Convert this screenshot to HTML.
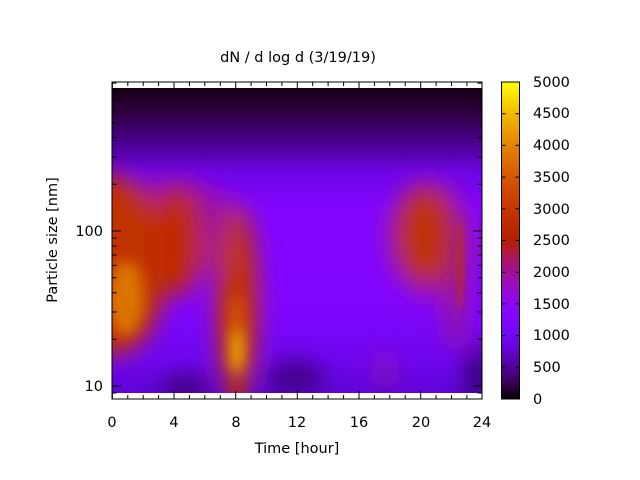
<!DOCTYPE html>
<html><head><meta charset="utf-8"><style>
html,body{margin:0;padding:0;background:#fff}
svg{display:block;font-family:"DejaVu Sans","Liberation Sans",sans-serif;font-size:14.5px}
</style></head><body>
<svg width="640" height="480" viewBox="0 0 640 480">
<defs>
<linearGradient id="pal" x1="0" y1="1" x2="0" y2="0">
<stop offset="0" stop-color="#000000"/>
<stop offset="0.05" stop-color="#390055"/>
<stop offset="0.1" stop-color="#510096"/>
<stop offset="0.15" stop-color="#6203cd"/>
<stop offset="0.2" stop-color="#7208f3"/>
<stop offset="0.25" stop-color="#8004ff"/>
<stop offset="0.3" stop-color="#8c07f3"/>
<stop offset="0.35" stop-color="#970bcd"/>
<stop offset="0.4" stop-color="#a11096"/>
<stop offset="0.45" stop-color="#ab1755"/>
<stop offset="0.5" stop-color="#b42000"/>
<stop offset="0.6" stop-color="#c53700"/>
<stop offset="0.7" stop-color="#d55700"/>
<stop offset="0.8" stop-color="#e48300"/>
<stop offset="0.9" stop-color="#f1ba00"/>
<stop offset="1" stop-color="#ffff00"/>
</linearGradient>
<linearGradient id="bg" x1="0" y1="88" x2="0" y2="393" gradientUnits="userSpaceOnUse">
<stop offset="0" stop-color="#160012"/>
<stop offset="0.08" stop-color="#2e0040"/>
<stop offset="0.18" stop-color="#4a0090"/>
<stop offset="0.28" stop-color="#6e05e8"/>
<stop offset="0.4" stop-color="#8205ff"/>
<stop offset="0.7" stop-color="#8005ff"/>
<stop offset="0.88" stop-color="#7006f0"/>
<stop offset="1" stop-color="#6004d8"/>
</linearGradient>
<clipPath id="clip"><rect x="112" y="88" width="370" height="305"/></clipPath>
<filter id="b12" x="-50%" y="-50%" width="200%" height="200%"><feGaussianBlur stdDeviation="12"/></filter>
<filter id="b8" x="-50%" y="-50%" width="200%" height="200%"><feGaussianBlur stdDeviation="7"/></filter>
<filter id="b5" x="-50%" y="-50%" width="200%" height="200%"><feGaussianBlur stdDeviation="4"/></filter>
</defs>
<g clip-path="url(#clip)">
<rect x="112" y="88" width="370" height="305" fill="url(#bg)"/>
<g filter="url(#b12)">
<ellipse cx="170" cy="230" rx="75" ry="50" fill="#a0109a" opacity="0.85"/>
<ellipse cx="430" cy="240" rx="45" ry="60" fill="#9a10b0" opacity="0.8"/>
<ellipse cx="185" cy="388" rx="25" ry="10" fill="#300050" opacity="0.9"/>
<ellipse cx="295" cy="378" rx="30" ry="18" fill="#380070" opacity="0.8"/>
<ellipse cx="478" cy="375" rx="10" ry="30" fill="#2a0050"/>
<ellipse cx="112" cy="265" rx="55" ry="90" fill="#c03000"/>
<ellipse cx="178" cy="240" rx="25" ry="55" fill="#c02c00"/>
<ellipse cx="237" cy="300" rx="20" ry="95" fill="#c23400"/>
<ellipse cx="425" cy="235" rx="30" ry="50" fill="#c03000"/>
<ellipse cx="455" cy="280" rx="10" ry="70" fill="#a82060" opacity="0.8"/>
<ellipse cx="385" cy="370" rx="8" ry="20" fill="#a01890" opacity="0.7"/>
</g>
<g filter="url(#b8)">
<ellipse cx="126" cy="298" rx="18" ry="38" fill="#e08000" opacity="0.85"/>
<ellipse cx="237" cy="325" rx="8" ry="30" fill="#d85a00" opacity="0.8"/>
<ellipse cx="237" cy="352" rx="7" ry="22" fill="#f0b000"/>
<ellipse cx="237" cy="390" rx="9" ry="8" fill="#c03000"/>
</g>
<g filter="url(#b5)">
<ellipse cx="460" cy="265" rx="3" ry="45" fill="#c03000" opacity="0.9"/>
</g>
</g>
<rect x="112" y="82" width="370" height="317" fill="none" stroke="#000" stroke-width="1"/>
<g stroke="#000" stroke-width="1">
<path d="M112.4,399v-8M112.4,82v8M174,399v-8M174,82v8M235.7,399v-8M235.7,82v8M297.3,399v-8M297.3,82v8M359,399v-8M359,82v8M420.7,399v-8M420.7,82v8M482,399v-8M482,82v8"/>
<path d="M127.8,399v-4M143.2,399v-4M158.6,399v-4M189.4,399v-4M204.8,399v-4M220.3,399v-4M251.1,399v-4M266.5,399v-4M281.9,399v-4M312.7,399v-4M328.1,399v-4M343.6,399v-4M374.4,399v-4M389.8,399v-4M405.2,399v-4M436.1,399v-4M451.5,399v-4M466.9,399v-4M127.8,82v4M143.2,82v4M158.6,82v4M189.4,82v4M204.8,82v4M220.3,82v4M251.1,82v4M266.5,82v4M281.9,82v4M312.7,82v4M328.1,82v4M343.6,82v4M374.4,82v4M389.8,82v4M405.2,82v4M436.1,82v4M451.5,82v4M466.9,82v4"/>
<path d="M112,386h9M482,386h-9M112,231h9M482,231h-9"/>
<path d="M112,393h4.5M112,339.3h4.5M112,312h4.5M112,292.7h4.5M112,277.7h4.5M112,265.4h4.5M112,255h4.5M112,246h4.5M112,238.1h4.5M112,184.3h4.5M112,157h4.5M112,137.7h4.5M112,122.7h4.5M112,110.4h4.5M112,100h4.5M112,91h4.5M112,83.1h4.5"/>
<path d="M482,393h-4.5M482,339.3h-4.5M482,312h-4.5M482,292.7h-4.5M482,277.7h-4.5M482,265.4h-4.5M482,255h-4.5M482,246h-4.5M482,238.1h-4.5M482,184.3h-4.5M482,157h-4.5M482,137.7h-4.5M482,122.7h-4.5M482,110.4h-4.5M482,100h-4.5M482,91h-4.5M482,83.1h-4.5"/>
</g>
<g text-anchor="middle" fill="#000">
<text x="112" y="427">0</text><text x="174" y="427">4</text><text x="236" y="427">8</text>
<text x="297" y="427">12</text><text x="359" y="427">16</text><text x="421" y="427">20</text><text x="482" y="427">24</text>
<text x="297" y="453">Time [hour]</text>
<text x="298" y="62">dN / d log d (3/19/19)</text>
</g>
<g text-anchor="end"><text x="103" y="391">10</text><text x="103" y="236">100</text></g>
<text transform="translate(57,240) rotate(-90)" text-anchor="middle">Particle size [nm]</text>
<rect x="501.5" y="82" width="18" height="317" fill="url(#pal)" stroke="#000" stroke-width="1"/>
<g stroke="#000">
<path d="M501.5,367.3h4M519.5,367.3h-4M501.5,335.6h4M519.5,335.6h-4M501.5,303.9h4M519.5,303.9h-4M501.5,272.2h4M519.5,272.2h-4M501.5,240.5h4M519.5,240.5h-4M501.5,208.8h4M519.5,208.8h-4M501.5,177.1h4M519.5,177.1h-4M501.5,145.4h4M519.5,145.4h-4M501.5,113.7h4M519.5,113.7h-4"/>
</g>
<g text-anchor="start">
<text x="533" y="404">0</text><text x="533" y="372">500</text><text x="533" y="340">1000</text>
<text x="533" y="309">1500</text><text x="533" y="277">2000</text><text x="533" y="245">2500</text>
<text x="533" y="214">3000</text><text x="533" y="182">3500</text><text x="533" y="150">4000</text>
<text x="533" y="118">4500</text><text x="533" y="87">5000</text>
</g>
</svg>
</body></html>
